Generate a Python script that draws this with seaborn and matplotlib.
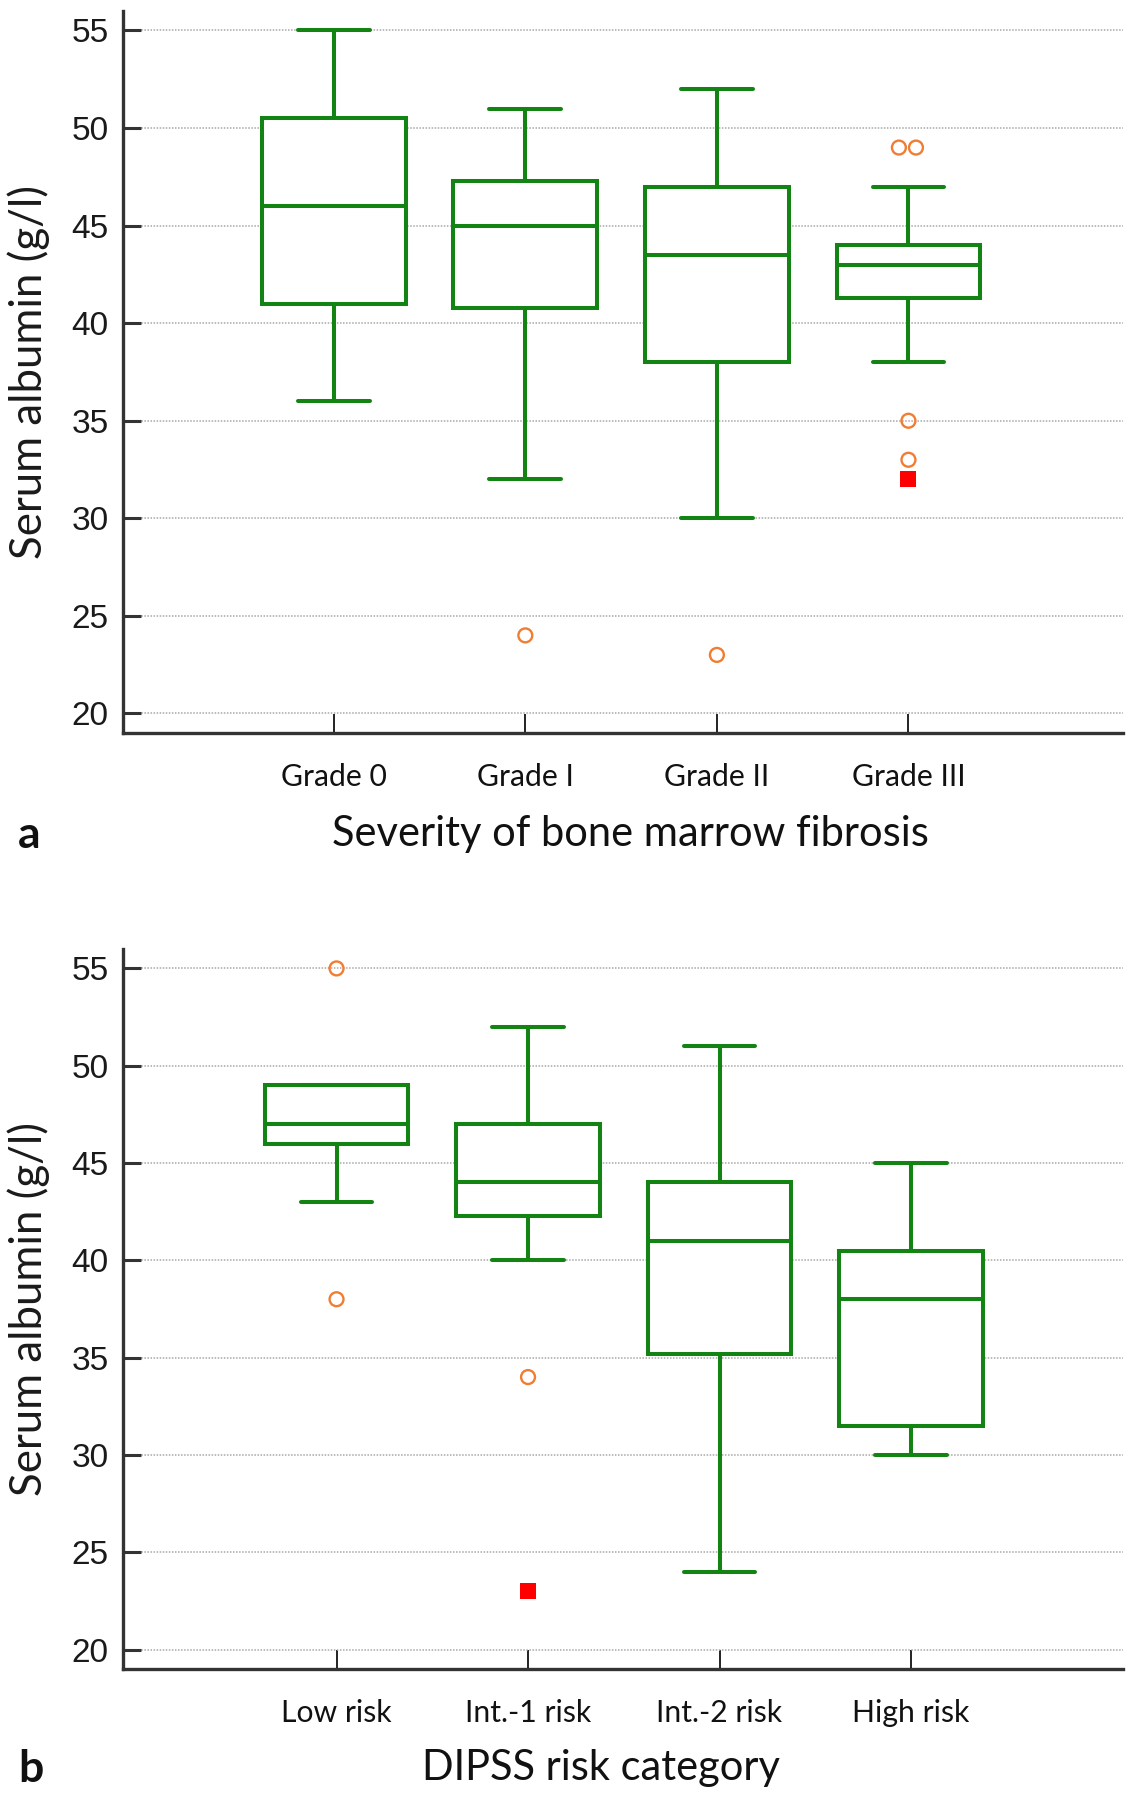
import matplotlib
matplotlib.use("Agg")
import matplotlib.pyplot as plt
from matplotlib.transforms import ScaledTranslation
import seaborn as sns
import pandas as pd

# ---------------- data ----------------
# Panel a: severity of bone marrow fibrosis
grades = ["Grade 0", "Grade I", "Grade II", "Grade III"]
a_low = [36, 32, 30, 38]
a_q1 = [41, 40.8, 38, 41.3]
a_med = [46, 45, 43.5, 43]
a_q3 = [50.5, 47.3, 47, 44]
a_high = [55, 51, 52, 47]
a_out_cat = ["Grade I", "Grade II", "Grade III", "Grade III"]
a_out_val = [24, 23, 35, 33]
a_pair_cat = ["Grade III", "Grade III"]   # two tied outliers drawn side by side
a_pair_val = [49, 49]
a_far_cat = ["Grade III"]
a_far_val = [32]

# Panel b: DIPSS risk category
risks = ["Low risk", "Int.-1 risk", "Int.-2 risk", "High risk"]
b_low = [43, 40, 24, 30]
b_q1 = [46, 42.3, 35.2, 31.5]
b_med = [47, 44, 41, 38]
b_q3 = [49, 47, 44, 40.5]
b_high = [49, 52, 51, 45]
b_out_cat = ["Low risk", "Low risk", "Int.-1 risk"]
b_out_val = [55, 38, 34]
b_pair_cat = []
b_pair_val = []
b_far_cat = ["Int.-1 risk"]
b_far_val = [23]

yticks = [20, 25, 30, 35, 40, 45, 50, 55]
ylabel = "Serum albumin (g/l)"
a_xlabel = "Severity of bone marrow fibrosis"
b_xlabel = "DIPSS risk category"

GREEN = "#138313"
ORANGE = "#f07d32"
RED = "#ff0000"
AXCOL = "#333333"
LABEL_FONT = "Lato"

sns.set_theme(style="white")
plt.rcParams["font.family"] = ["DejaVu Sans"]


def five_number_frame(cats, low, q1, med, q3, high):
    rows = []
    for c, a, b, m, d, e in zip(cats, low, q1, med, q3, high):
        for v in (a, b, m, d, e):
            rows.append({"cat": c, "val": v})
    return pd.DataFrame(rows)


def hollow(ax, n0):
    for coll in ax.collections[n0:]:
        coll.set_facecolor("none")
        coll.set_edgecolor(ORANGE)
        coll.set_linewidth(1.7)


def draw_panel(fig, ax, cats, low, q1, med, q3, high, out_cat, out_val,
               pair_cat, pair_val, far_cat, far_val, xlabel, xlim, xlab_x, xlab_y):
    df = five_number_frame(cats, low, q1, med, q3, high)
    sns.boxplot(data=df, x="cat", y="val", order=cats, whis=(0, 100),
                showfliers=False, width=0.75, color="white", linecolor=GREEN,
                linewidth=2.9, saturation=1, ax=ax, zorder=3)
    n0 = len(ax.collections)
    sns.stripplot(x=out_cat, y=out_val, order=cats, marker="o", size=10,
                  color=ORANGE, jitter=False, linewidth=1.7, edgecolor=ORANGE,
                  ax=ax, zorder=4)
    hollow(ax, n0)
    if pair_val:
        n1 = len(ax.collections)
        sns.swarmplot(x=pair_cat, y=pair_val, order=cats, marker="o", size=10,
                      color=ORANGE, linewidth=1.7, edgecolor=ORANGE, ax=ax, zorder=4)
        hollow(ax, n1)
        # centre the side-by-side pair on its category
        shift = ScaledTranslation(0.075, 0, fig.dpi_scale_trans)
        for coll in ax.collections[n1:]:
            coll.set_offset_transform(ax.transData + shift)
    sns.stripplot(x=far_cat, y=far_val, order=cats, marker="s", size=11,
                  color=RED, jitter=False, linewidth=0, ax=ax, zorder=4)

    ax.set_xlim(*xlim)
    ax.set_ylim(19, 56)
    ax.set_yticks(yticks)
    ax.set_yticklabels([str(t) for t in yticks], family="Liberation Sans")
    ax.yaxis.grid(True, linestyle=(0, (1, 1)), color="#a8a8a8", linewidth=1.1, zorder=0)
    ax.xaxis.grid(False)
    ax.set_axisbelow(True)

    for s in ("top", "right"):
        ax.spines[s].set_visible(False)
    for s in ("left", "bottom"):
        ax.spines[s].set_visible(True)
        ax.spines[s].set_color(AXCOL)
        ax.spines[s].set_linewidth(2.4)

    ax.tick_params(axis="y", direction="in", length=13, width=2.2, color=AXCOL,
                   labelsize=24, labelcolor="#1a1a1a", pad=10.5, left=True)
    ax.tick_params(axis="x", direction="in", length=14, width=1.4, color="#222222",
                   labelsize=21.7, labelcolor="#111111", pad=21.5, bottom=True)
    for lab in ax.get_xticklabels():
        lab.set_fontfamily(LABEL_FONT)

    ax.set_ylabel(ylabel, fontsize=31.5, family=LABEL_FONT, color="#1a1a1a")
    ax.yaxis.set_label_coords(-0.073, 0.5)
    ax.set_xlabel(xlabel, fontsize=30, family=LABEL_FONT, color="#111111", va="center")
    ax.xaxis.set_label_coords(xlab_x, xlab_y)


fig = plt.figure(figsize=(11.37, 18), dpi=100)
ax1 = fig.add_axes([0.1082, 0.5928, 0.8795, 0.4011])
ax2 = fig.add_axes([0.1082, 0.0728, 0.8795, 0.4000])

draw_panel(fig, ax1, grades, a_low, a_q1, a_med, a_q3, a_high, a_out_cat, a_out_val,
           a_pair_cat, a_pair_val, a_far_cat, a_far_val, a_xlabel,
           (-1.10, 4.12), 0.507, -0.140)
draw_panel(fig, ax2, risks, b_low, b_q1, b_med, b_q3, b_high, b_out_cat, b_out_val,
           b_pair_cat, b_pair_val, b_far_cat, b_far_val, b_xlabel,
           (-1.115, 4.107), 0.478, -0.138)

fig.text(0.016, 0.536, "a", fontsize=32, fontweight="bold", family=LABEL_FONT,
         va="center", ha="left", color="#111111")
fig.text(0.016, 0.0172, "b", fontsize=32, fontweight="bold", family=LABEL_FONT,
         va="center", ha="left", color="#111111")

fig.savefig("out.png", dpi=100, facecolor="white")
